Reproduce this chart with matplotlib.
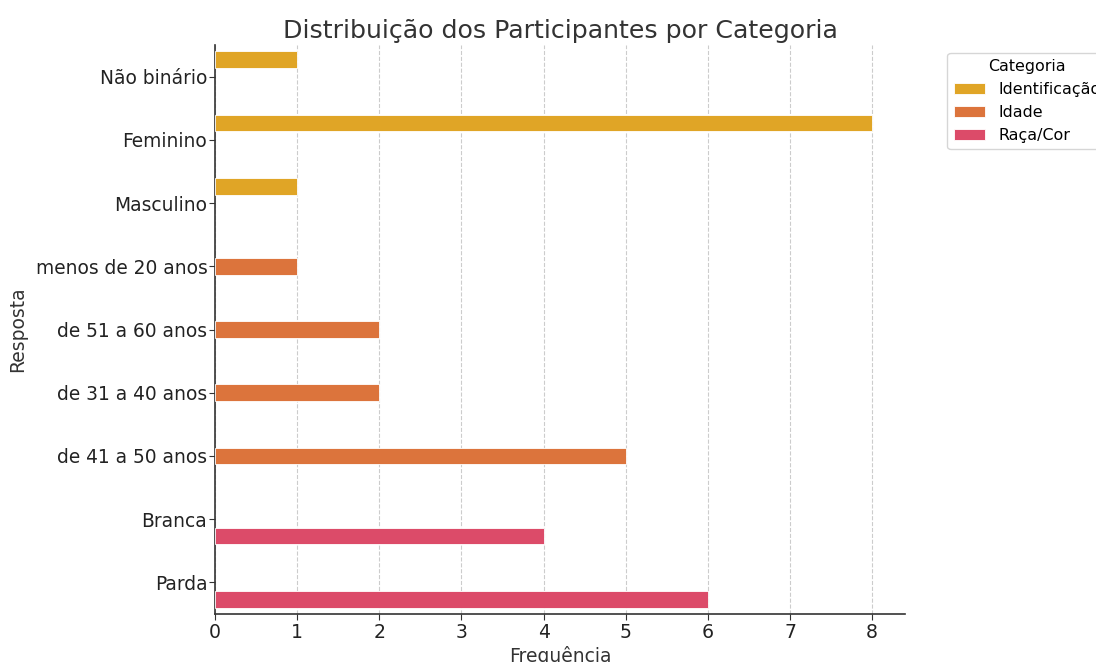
import matplotlib
matplotlib.use("Agg")
import matplotlib.pyplot as plt
import numpy as np

# Responses, their counts and the group each belongs to
respostas = ["Não binário", "Feminino", "Masculino",
             "menos de 20 anos", "de 51 a 60 anos", "de 31 a 40 anos", "de 41 a 50 anos",
             "Branca", "Parda"]
frequencias = [1, 8, 1, 1, 2, 2, 5, 4, 6]
grupos = ["Identificação", "Identificação", "Identificação",
          "Idade", "Idade", "Idade", "Idade",
          "Raça/Cor", "Raça/Cor"]
categorias = ["Identificação", "Idade", "Raça/Cor"]
cores = {"Identificação": "#E0A526", "Idade": "#DC743C", "Raça/Cor": "#DC4B69"}

plt.rcParams["font.family"] = ["DejaVu Sans"]
fig = plt.figure(figsize=(10.96, 6.62), dpi=100)
ax = fig.add_axes([215 / 1096, 1 - 614 / 662, 690 / 1096, 569 / 662])

n_hue = len(categorias)
largura = 0.8 / n_hue
pos = np.arange(len(respostas))
for h, cat in enumerate(categorias):
    idx = [i for i, g in enumerate(grupos) if g == cat]
    desloc = (h - (n_hue - 1) / 2) * largura
    ax.barh(pos[idx] + desloc, [frequencias[i] for i in idx], height=largura,
            color=cores[cat], edgecolor="white", linewidth=0.6, label=cat, zorder=3)

ax.set_yticks(pos)
ax.set_yticklabels(respostas, fontsize=13.4, color="#222222")
ax.set_ylim(len(respostas) - 0.5, -0.5)
ax.set_xlim(0, 8.4)
ax.set_xticks(range(0, 9))
ax.tick_params(axis="x", labelsize=13.6, colors="#222222", pad=2)
ax.tick_params(axis="y", pad=1)
ax.tick_params(axis="both", direction="out", length=4.5, color="#333333")

ax.grid(axis="x", linestyle="--", color="#cccccc", linewidth=0.8, zorder=0)
ax.set_axisbelow(True)
for s in ["top", "right"]:
    ax.spines[s].set_visible(False)
for s in ["left", "bottom"]:
    ax.spines[s].set_color("#333333")
    ax.spines[s].set_linewidth(1.2)

ax.set_title("Distribuição dos Participantes por Categoria", fontsize=18.2, color="#333333", pad=5)
ax.set_xlabel("Frequência", fontsize=13.5, color="#333333", labelpad=3)
ax.set_ylabel("Resposta", fontsize=13.5, color="#333333", labelpad=6)

leg = ax.legend(title="Categoria", loc="upper left", bbox_to_anchor=(1.05, 1.0),
                fontsize=11.4, title_fontsize=11.4, frameon=True)
leg.get_frame().set_edgecolor("#cccccc")

fig.savefig("out.png", dpi=100)
